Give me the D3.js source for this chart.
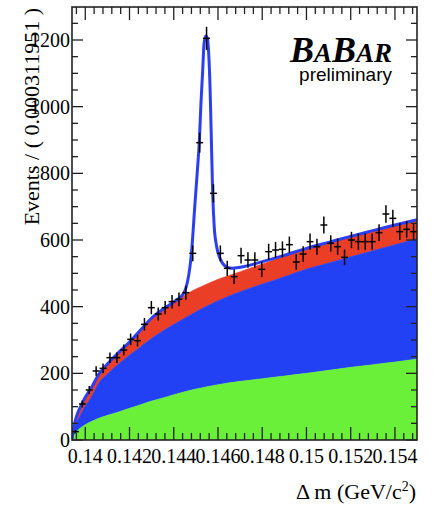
<!DOCTYPE html>
<html>
<head>
<meta charset="utf-8">
<script src="https://cdn.jsdelivr.net/npm/d3@7"></script>
<style>
  body { margin: 0; background: #fff; }
  svg { display: block; }
</style>
</head>
<body>
<div id="main"></div>
<script>
// binned data, 50 bins
var binWidth = 0.000311951;
var xStart = 0.1394;
var counts = [25, 108, 150, 207, 215, 247, 247, 270, 302, 298,
  347, 397, 378, 397, 415, 422, 442, 560, 892, 1205,
  740, 560, 515, 490, 553, 540, 540, 512, 565, 570,
  572, 586, 534, 558, 595, 580, 645, 590, 580, 548,
  600, 595, 595, 595, 622, 678, 665, 625, 632, 625];

// background components, read at these points
var gridX = [0.1394, 0.13945, 0.1395, 0.1396, 0.1398, 0.1400, 0.1403, 0.1406, 0.1410, 0.1415,
  0.1420, 0.1425, 0.1430, 0.1435, 0.1440, 0.1445, 0.1450, 0.1455, 0.1460, 0.1470,
  0.1480, 0.1490, 0.1500, 0.1510, 0.1520, 0.1530, 0.1540, 0.1550];
var greenTop = [0, 8, 15, 25, 37, 46, 56, 65, 74, 84,
  95, 106, 117, 126, 136, 145, 153, 160, 166, 176,
  184, 192, 200, 209, 218, 226, 234, 243];
var blueTop = [0, 15, 30, 50, 78, 102, 132, 170, 198, 228,
  255, 280, 305, 327, 347, 366, 385, 402, 418, 445,
  468, 490, 513, 531, 550, 568, 586, 604];
var redTop = [0, 22, 42, 68, 100, 126, 158, 195, 226, 260,
  292, 328, 364, 390, 412, 435, 453, 468, 482, 505,
  528, 551, 573, 592, 610, 627, 644, 660];

// total fit
var fitX = [0.1394, 0.13945, 0.1395, 0.1396, 0.1398, 0.1400, 0.1403, 0.1406, 0.1410, 0.1415,
  0.1420, 0.1425, 0.1430, 0.1435, 0.1440, 0.14445, 0.1448, 0.14495, 0.14507, 0.14516,
  0.14523, 0.14531, 0.14537, 0.14545, 0.14552, 0.14558, 0.14564, 0.14569, 0.14576, 0.14583,
  0.14594, 0.14609, 0.14632, 0.14662, 0.1470, 0.1480, 0.1490, 0.1500, 0.1510, 0.1520,
  0.1530, 0.1540, 0.1550];
var fitY = [0, 24, 44, 70, 102, 128, 160, 196, 228, 262,
  294, 330, 366, 392, 414, 440, 560, 700, 810, 900,
  1010, 1110, 1190, 1212, 1205, 1160, 1060, 930, 740, 640,
  580, 545, 522, 515, 518, 535, 554, 575, 593, 611,
  628, 645, 661];

var xTicks = [0.140, 0.142, 0.144, 0.146, 0.148, 0.150, 0.152, 0.154];
var xTickLabels = ["0.14", "0.142", "0.144", "0.146", "0.148", "0.15", "0.152", "0.154"];
var yTicks = [0, 200, 400, 600, 800, 1000, 1200];

var W = 434, H = 506;
var padL = 72, padR = 417, padT = 7, padB = 440;

var svg = d3.select("#main").append("svg")
  .attr("width", W)
  .attr("height", H);

svg.append("rect").attr("width", W).attr("height", H).attr("fill", "#fff");

var x = d3.scaleLinear()
  .domain([xStart, xStart + counts.length * binWidth])
  .range([padL, padR]);
var y = d3.scaleLinear()
  .domain([0, 1299])
  .range([padB, padT]);

svg.append("clipPath").attr("id", "plotclip")
  .append("rect")
  .attr("x", padL).attr("y", padT)
  .attr("width", padR - padL).attr("height", padB - padT);

var plot = svg.append("g").attr("clip-path", "url(#plotclip)");

var bands = [
  { lo: blueTop, hi: redTop, color: "#ea3e26" },
  { lo: greenTop, hi: blueTop, color: "#2341f4" },
  { lo: null, hi: greenTop, color: "#6bf03a" }
];

bands.forEach(function(b) {
  var area = d3.area()
    .curve(d3.curveMonotoneX)
    .x(function(d, i) { return x(gridX[i]); })
    .y0(function(d, i) { return b.lo ? y(b.lo[i]) : y(0); })
    .y1(function(d, i) { return y(b.hi[i]); });
  plot.append("path")
    .datum(gridX)
    .attr("d", area)
    .attr("fill", b.color)
    .attr("stroke", b.color)
    .attr("stroke-width", 0.5);
});

var line = d3.line()
  .curve(d3.curveMonotoneX)
  .x(function(d, i) { return x(fitX[i]); })
  .y(function(d, i) { return y(fitY[i]); });

plot.append("path")
  .datum(fitX)
  .attr("d", line)
  .attr("fill", "none")
  .attr("stroke", "#2b3ff0")
  .attr("stroke-width", 3);

// data points with errors
var pts = plot.selectAll(".pt")
  .data(counts)
  .enter().append("g")
  .attr("class", "pt");

pts.append("line")
  .attr("x1", function(d, i) { return x(xStart + i * binWidth); })
  .attr("x2", function(d, i) { return x(xStart + (i + 1) * binWidth); })
  .attr("y1", function(d) { return y(d); })
  .attr("y2", function(d) { return y(d); })
  .attr("stroke", "#000")
  .attr("stroke-width", 1.5);

pts.append("line")
  .attr("x1", function(d, i) { return x(xStart + (i + 0.5) * binWidth); })
  .attr("x2", function(d, i) { return x(xStart + (i + 0.5) * binWidth); })
  .attr("y1", function(d) { return y(d - Math.sqrt(d)); })
  .attr("y2", function(d) { return y(d + Math.sqrt(d)); })
  .attr("stroke", "#000")
  .attr("stroke-width", 1.5);

// frame and ticks
var axes = svg.append("g").attr("stroke", "#222").attr("stroke-width", 1.3);

var xMinor = d3.range(0, 40).map(function(k) { return 0.1396 + k * 0.0004; })
  .filter(function(v) { return x(v) < padR - 1; });
var yMinor = d3.range(0, 26).map(function(k) { return k * 50; });

xMinor.forEach(function(v) {
  var major = Math.abs(v * 500 - Math.round(v * 500)) < 1e-6;
  var len = major ? 13 : 7;
  axes.append("line").attr("x1", x(v)).attr("x2", x(v)).attr("y1", padB).attr("y2", padB - len);
  axes.append("line").attr("x1", x(v)).attr("x2", x(v)).attr("y1", padT).attr("y2", padT + len);
});

yMinor.forEach(function(v) {
  var len = v % 200 == 0 ? 11 : 6;
  axes.append("line").attr("x1", padL).attr("x2", padL + len).attr("y1", y(v)).attr("y2", y(v));
  axes.append("line").attr("x1", padR).attr("x2", padR - len).attr("y1", y(v)).attr("y2", y(v));
});

svg.append("rect")
  .attr("x", padL).attr("y", padT)
  .attr("width", padR - padL).attr("height", padB - padT)
  .attr("fill", "none")
  .attr("stroke", "#222")
  .attr("stroke-width", 1.6);

var serif = "'Liberation Serif', 'Times New Roman', serif";

svg.selectAll(".ylab")
  .data(yTicks)
  .enter().append("text")
  .attr("class", "ylab")
  .attr("x", padL - 2)
  .attr("y", function(d) { return y(d); })
  .attr("dy", "0.35em")
  .attr("text-anchor", "end")
  .style("font-family", serif)
  .style("font-size", "20px")
  .text(function(d) { return d; });

svg.selectAll(".xlab")
  .data(xTicks)
  .enter().append("text")
  .attr("class", "xlab")
  .attr("x", function(d) { return x(d); })
  .attr("y", 463)
  .attr("text-anchor", "middle")
  .style("font-family", serif)
  .style("font-size", "20px")
  .text(function(d, i) { return xTickLabels[i]; });

svg.append("text")
  .attr("transform", "translate(39,8) rotate(-90)")
  .attr("text-anchor", "end")
  .style("font-family", serif)
  .style("font-size", "22px")
  .text("Events / ( 0.000311951 )");

var xt = svg.append("text")
  .attr("x", 416)
  .attr("y", 499)
  .attr("text-anchor", "end")
  .style("font-family", serif)
  .style("font-size", "22px");
xt.append("tspan").text("\u0394 m (GeV/c");
xt.append("tspan").attr("dy", -8).style("font-size", "14px").text("2");
xt.append("tspan").attr("dy", 8).text(")");

// BaBar logo
var logo = svg.append("text")
  .attr("x", 392)
  .attr("y", 62)
  .attr("text-anchor", "end")
  .style("font-family", serif)
  .style("font-weight", "bold")
  .style("font-style", "italic");
logo.append("tspan").style("font-size", "36px").text("B");
logo.append("tspan").style("font-size", "27px").text("A");
logo.append("tspan").style("font-size", "36px").text("B");
logo.append("tspan").style("font-size", "27px").text("AR");

svg.append("text")
  .attr("x", 392)
  .attr("y", 81)
  .attr("text-anchor", "end")
  .style("font-family", "'Liberation Sans', Arial, sans-serif")
  .style("font-size", "19px")
  .text("preliminary");
</script>
</body>
</html>
